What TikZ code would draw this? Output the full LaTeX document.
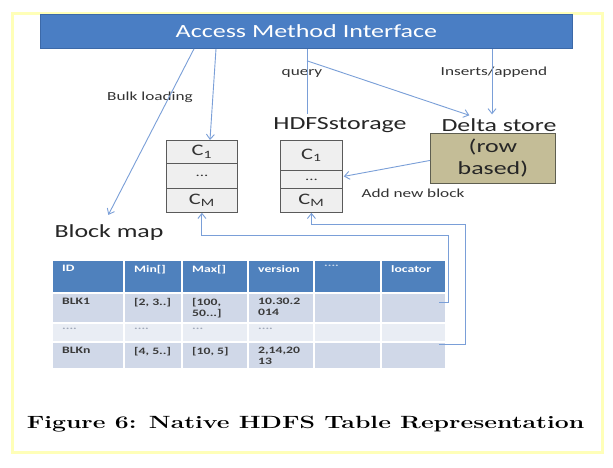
\documentclass[tikz,border=0pt]{standalone}
\usepackage{fontspec}
\usepackage{graphicx}
\newfontfamily\calw[FakeStretch=1.4]{Carlito}
\usetikzlibrary{arrows.meta,calc}
\definecolor{barblue}{HTML}{4A7EC4}
\definecolor{barborder}{HTML}{3C69A8}
\definecolor{lineblue}{HTML}{7A9FD8}
\definecolor{deltafill}{HTML}{C4BD97}
\definecolor{deltaborder}{HTML}{5E5E50}
\definecolor{cfill}{HTML}{EFEFEF}
\definecolor{cborder}{HTML}{5A5A5A}
\definecolor{hdrblue}{HTML}{4F81BD}
\definecolor{rowa}{HTML}{D0D8E8}
\definecolor{rowb}{HTML}{E9EDF4}
\definecolor{frameyellow}{HTML}{FFFFB8}
\definecolor{tdark}{HTML}{3A3A3A}
\definecolor{tlight}{HTML}{A0A8B8}

\newcommand\tcell[8]{%
  \node[tbox, fill=#6, minimum width={(#4-#2)*1pt}, minimum height={(#5-#3)*1pt}] (#1) at (#2,#3) {};
  \node[ttext, text=#7] (#1t) at ($(#1.north west)+(10,5)$) {#8};
}

\begin{document}
\begin{tikzpicture}[x=1pt,y=-1pt,
  conn/.style={draw=lineblue, line width=0.9pt},
  arr/.style={conn, -{Straight Barb[length=5pt,width=8pt]}},
  small/.style={font=\calw\fontsize{12.3}{14}\selectfont, text=black!80, inner sep=0pt},
  big/.style={font=\calw\fontsize{18.5}{22}\selectfont, text=black!85, inner sep=0pt},
  cbox/.style={draw=cborder, fill=cfill, line width=0.8pt, inner sep=0pt, anchor=north west,
    font=\calw\fontsize{16}{18}\selectfont, text=black!80},
  tbox/.style={draw=white, line width=1.5pt, anchor=north west, inner sep=0pt, outer sep=0pt},
  ttext/.style={anchor=north west, inner sep=0pt, align=left,
    font=\calw\bfseries\fontsize{9.8}{11}\selectfont}
]
\useasboundingbox (0,0) rectangle (613,467);
\fill[white] (0,0) rectangle (613,467);
\draw[frameyellow, line width=3pt] (12,13) rectangle (602,452);

% Access method interface bar
\node[fill=barblue, draw=barborder, line width=0.8pt, minimum width=532pt, minimum height=34pt,
  anchor=north west, inner sep=0pt, text=white, font=\calw\fontsize{18.6}{22}\selectfont]
  (ami) at (40,14) {Access Method Interface};

% labels
\node[small] (bulk) at (150,97) {Bulk loading};
\node[small] (query) at (302,73) {query};
\node[small] (ins) at (494,72) {Inserts/append};
\node[big] (hdfs) at (340,125) {HDFSstorage};
\node[big] (dlabel) at (499,125) {Delta store};
\node[big] (bmap) at (109,233) {Block map};
\node[small] (addnew) at (413,193) {Add new block};

% delta store box
\node[draw=deltaborder, fill=deltafill, line width=0.9pt, minimum width=125pt, minimum height=50pt,
  anchor=north west, inner sep=0pt, align=center, text=black!85,
  font=\calw\fontsize{18.5}{22}\selectfont] (delta) at (430,133) {(row\\based)};

% left column box
\node[cbox, minimum width=71pt, minimum height=23pt] (lc1) at (166,140) {C\textsubscript{1}};
\node[cbox, minimum width=71pt, minimum height=25pt] (lcd) at (166,163) {\fontsize{12}{14}\selectfont ...};
\node[cbox, minimum width=71pt, minimum height=24pt] (lcm) at (166,188) {C\textsubscript{M}};
% right column box
\node[cbox, minimum width=62pt, minimum height=30pt] (rc1) at (280,140) {C\textsubscript{1}};
\node[cbox, minimum width=62pt, minimum height=18pt] (rcd) at (280,170) {\fontsize{12}{14}\selectfont ...};
\node[cbox, minimum width=62pt, minimum height=24pt] (rcm) at (280,188) {C\textsubscript{M}};

% table
\tcell{h1}{52}{260}{124}{293}{hdrblue}{white}{ID}
\tcell{h2}{124}{260}{182}{293}{hdrblue}{white}{Min[]}
\tcell{h3}{182}{260}{248}{293}{hdrblue}{white}{Max[]}
\tcell{h4}{248}{260}{314}{293}{hdrblue}{white}{version}
\tcell{h5}{314}{260}{381}{293}{hdrblue}{white!70!hdrblue}{....}
\tcell{h6}{381}{260}{446}{293}{hdrblue}{white}{locator}

\tcell{a1}{52}{293}{124}{323}{rowa}{tdark}{BLK1}
\tcell{a2}{124}{293}{182}{323}{rowa}{tdark}{[2, 3..]}
\tcell{a3}{182}{293}{248}{323}{rowa}{tdark}{[100,\\50...]}
\tcell{a4}{248}{293}{314}{323}{rowa}{tdark}{10.30.2\\014}
\tcell{a5}{314}{293}{381}{323}{rowa}{tdark}{}
\tcell{a6}{381}{293}{446}{323}{rowa}{tdark}{}

\tcell{b1}{52}{323}{124}{342}{rowb}{tlight}{....}
\tcell{b2}{124}{323}{182}{342}{rowb}{tlight}{....}
\tcell{b3}{182}{323}{248}{342}{rowb}{tlight}{...}
\tcell{b4}{248}{323}{314}{342}{rowb}{tlight}{....}
\tcell{b5}{314}{323}{381}{342}{rowb}{tlight}{}
\tcell{b6}{381}{323}{446}{342}{rowb}{tlight}{}

\tcell{c1}{52}{342}{124}{369}{rowa}{tdark}{BLKn}
\tcell{c2}{124}{342}{182}{369}{rowa}{tdark}{[4, 5..]}
\tcell{c3}{182}{342}{248}{369}{rowa}{tdark}{[10, 5]}
\tcell{c4}{248}{342}{314}{369}{rowa}{tdark}{2,14,20\\13}
\tcell{c5}{314}{342}{381}{369}{rowa}{tdark}{}
\tcell{c6}{381}{342}{446}{369}{rowa}{tdark}{}

% connectors from the interface bar
\coordinate (bltip) at ($(bmap.north west)+(54,-10)$);
\draw[arr] ($(ami.south west)+(154,0)$) -- (bltip);
\draw[arr] ($(ami.south west)+(176,0)$) -- ($(lc1.north west)+(44,0)$);
\coordinate (q0) at ($(ami.south west)+(267,0)$);
\draw[conn] (q0) -- ($(q0 |- hdfs.north)+(0,-3)$);
\draw[arr] ($(q0)+(0,12)$) -- ($(dlabel.north west)+(28,-3)$);
\coordinate (i0) at ($(ami.south west)+(452,0)$);
\draw[arr] (i0) -- ($(i0 |- dlabel.north)+(0,-4)$);

% delta store to HDFS storage
\draw[arr] ($(delta.west)+(0,2)$) -- ($(rcd.east)+(1,-3)$);

% locators back to column boxes
\draw[arr] ($(a6.north east)+(-7,9)$) -- ($(a6.north east)+(2,9)$) |- ($(lcm.south)+(0,23)$) -- (lcm.south);
\draw[arr] ($(c6.north east)+(-7,2)$) -- ($(c6.north east)+(19,2)$) |- ($(rcm.south)+(0,12)$) -- (rcm.south);

% caption
\node[inner sep=0pt] (caption) at (305.5,424)
  {\scalebox{1.4}[1]{\bfseries\fontsize{17.7}{20}\selectfont Figure 6: Native HDFS Table Representation}};
\end{tikzpicture}
\end{document}
